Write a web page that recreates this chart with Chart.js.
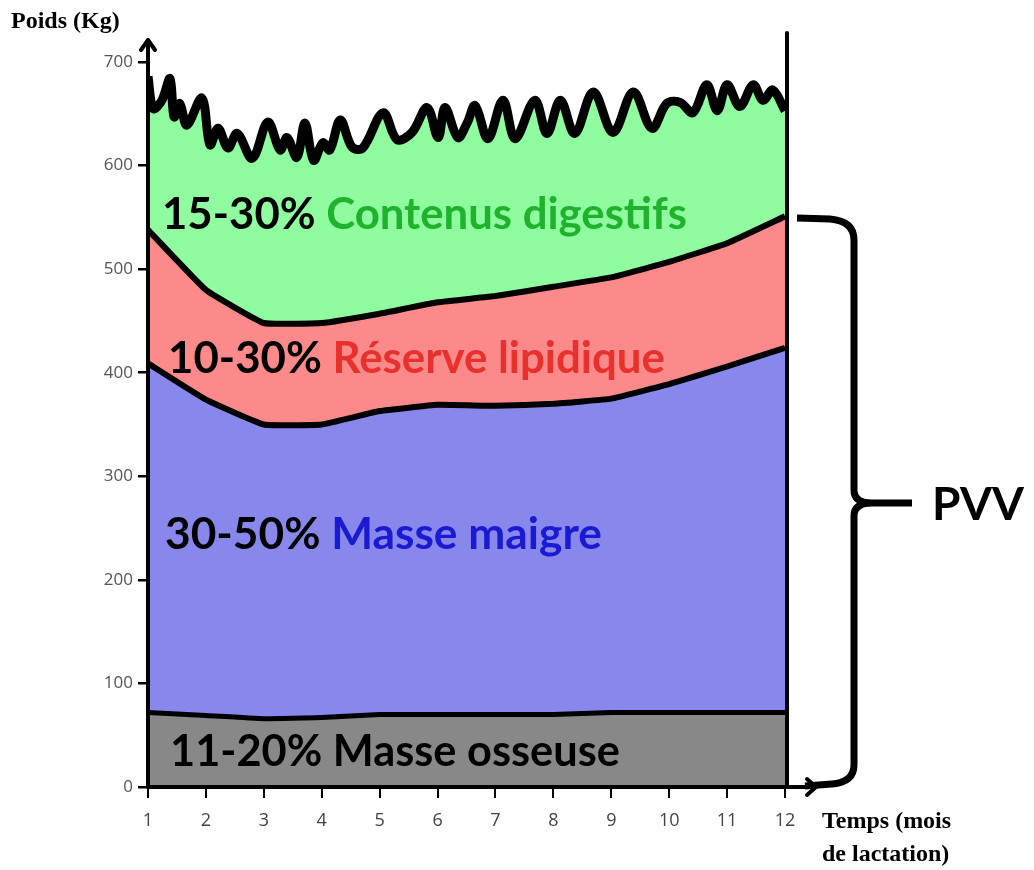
<!DOCTYPE html>
<html>
<head>
<meta charset="utf-8">
<script src="https://cdn.jsdelivr.net/npm/chart.js@4"></script>
<style>
  html, body { margin: 0; padding: 0; background: #fff; }
  #wrap { width: 1034px; height: 870px; position: relative; }
</style>
</head>
<body>
<div id="wrap"><canvas id="chart-1"></canvas></div>
<script>
// mois de lactation
const months = [1, 2, 3, 4, 5, 6, 7, 8, 9, 10, 11, 12];
// limites supérieures cumulées (kg)
const boneTop = [72, 69, 66, 67, 70, 70, 70, 70, 72, 72, 72, 72];
const leanTop = [409, 374, 350, 350, 363, 369, 368, 370, 375, 389, 406, 424];
const lipidTop = [538, 480, 448, 448, 457, 468, 474, 483, 492, 507, 525, 551];
// contenus digestifs : ligne ondulée
const digestX = [1, 1.09, 1.24, 1.38, 1.45, 1.55, 1.67, 1.93, 2.07, 2.21, 2.38, 2.54, 2.8, 3.07, 3.28, 3.4, 3.57, 3.71, 3.86, 4.02, 4.14, 4.32, 4.52, 4.71, 5.06, 5.3, 5.56, 5.82, 6.01, 6.13, 6.35, 6.51, 6.65, 6.87, 7.13, 7.34, 7.68, 7.89, 8.12, 8.37, 8.69, 9.03, 9.38, 9.7, 9.96, 10.19, 10.41, 10.65, 10.83, 11, 11.22, 11.45, 11.62, 11.79, 12];
const digestTop = [686, 655, 663, 684, 647, 660, 639, 665, 620, 636, 617, 631, 607, 642, 615, 627, 608, 641, 605, 622, 615, 644, 618, 617, 651, 625, 632, 656, 627, 656, 627, 641, 658, 626, 663, 626, 663, 631, 663, 631, 671, 632, 671, 636, 660, 661, 651, 678, 653, 678, 657, 678, 663, 673, 653];
const yTicks = [0, 100, 200, 300, 400, 500, 600, 700];

const ranges = ['15-30% ', '10-30% ', '30-50% ', '11-20% '];
const names = ['Contenus digestifs', 'Réserve lipidique', 'Masse maigre', 'Masse osseuse'];

function pts(xs, ys) {
  return xs.map((x, i) => ({ x: x, y: ys[i] }));
}

function fitText(ctx, parts, x, y, targetW, family) {
  ctx.font = 'bold 40px ' + family;
  const w = ctx.measureText(parts.map(p => p.text).join('')).width;
  const size = 40 * targetW / w;
  ctx.font = 'bold ' + size + 'px ' + family;
  let cx = x;
  parts.forEach(p => {
    ctx.fillStyle = p.color;
    ctx.fillText(p.text, cx, y);
    cx += ctx.measureText(p.text).width;
  });
}

const decor = {
  id: 'decor',
  afterDraw(chart) {
    const ctx = chart.ctx;
    const xs = chart.scales.x, ys = chart.scales.y;
    const x0 = xs.getPixelForValue(1), x1 = xs.getPixelForValue(12);
    const y0 = ys.getPixelForValue(0);
    ctx.save();
    ctx.strokeStyle = '#000';
    ctx.fillStyle = '#000';
    ctx.lineCap = 'round';
    ctx.lineJoin = 'round';

    // bord droit
    ctx.lineWidth = 4;
    ctx.beginPath();
    ctx.moveTo(x1 + 2, 33);
    ctx.lineTo(x1 + 2, y0);
    ctx.stroke();

    // axe vertical + flèche
    ctx.lineWidth = 4;
    ctx.beginPath();
    ctx.moveTo(x0, y0);
    ctx.lineTo(x0, 40);
    ctx.moveTo(x0 - 7, 50);
    ctx.lineTo(x0, 40);
    ctx.lineTo(x0 + 7, 50);
    ctx.stroke();

    // axe horizontal + flèche
    ctx.beginPath();
    ctx.moveTo(x0, y0);
    ctx.lineTo(816, y0);
    ctx.moveTo(807, y0 - 8);
    ctx.lineTo(816, y0);
    ctx.lineTo(807, y0 + 8);
    ctx.stroke();

    // accolade
    ctx.lineWidth = 7;
    ctx.lineCap = 'butt';
    ctx.beginPath();
    ctx.moveTo(797, 218);
    ctx.lineTo(830, 219);
    ctx.quadraticCurveTo(854, 221, 854, 240);
    ctx.lineTo(854, 490);
    ctx.quadraticCurveTo(854, 503, 872, 503);
    ctx.lineTo(912, 503);
    ctx.moveTo(872, 503);
    ctx.quadraticCurveTo(854, 503, 854, 516);
    ctx.lineTo(854, 765);
    ctx.quadraticCurveTo(854, 782, 832, 784);
    ctx.lineTo(805, 786);
    ctx.stroke();

    // PVV
    ctx.font = 'bold 46px Lato';
    ctx.textBaseline = 'middle';
    ctx.textAlign = 'left';
    ctx.fillText('PVV', 932, 505);

    // titres d'axes
    ctx.font = 'bold 24px "Liberation Serif"';
    ctx.fillText('Poids (Kg)', 11, 22);
    ctx.fillText('Temps (mois', 822, 822);
    ctx.fillText('de lactation)', 822, 855);

    // étiquettes des couches
    ctx.textBaseline = 'alphabetic';
    const fam = 'Lato';
    fitText(ctx, [{ text: ranges[0], color: '#000' }, { text: names[0], color: '#1fb22c' }], 162, 229, 525, fam);
    fitText(ctx, [{ text: ranges[1], color: '#000' }, { text: names[1], color: '#e8302c' }], 168, 373, 497, fam);
    fitText(ctx, [{ text: ranges[2], color: '#000' }, { text: names[2], color: '#1a1ad2' }], 165, 549, 437, fam);
    fitText(ctx, [{ text: ranges[3], color: '#000' }, { text: names[3], color: '#000' }], 170, 766, 450, fam);
    ctx.restore();
  }
};

const ctx1 = document.getElementById('chart-1').getContext('2d');
const myChart1 = new Chart(ctx1, {
  type: 'line',
  data: {
    datasets: [
      {
        label: names[3],
        data: pts(months, boneTop),
        borderColor: '#000',
        borderWidth: 5,
        backgroundColor: '#888888',
        fill: 'origin',
        tension: 0.1
      },
      {
        label: names[2],
        data: pts(months, leanTop),
        borderColor: '#000',
        borderWidth: 6,
        backgroundColor: '#8888ec',
        fill: 'origin',
        tension: 0.1
      },
      {
        label: names[1],
        data: pts(months, lipidTop),
        borderColor: '#000',
        borderWidth: 6,
        backgroundColor: '#fc8a8a',
        fill: 'origin',
        tension: 0.1
      },
      {
        label: names[0],
        data: pts(digestX, digestTop),
        borderColor: '#000',
        borderWidth: 9,
        backgroundColor: '#8ffca0',
        fill: 'origin',
        tension: 0.35
      }
    ]
  },
  options: {
    responsive: true,
    maintainAspectRatio: false,
    animation: false,
    elements: { point: { radius: 0 } },
    layout: { padding: { top: 62, right: 249, bottom: 0, left: 0 } },
    plugins: { legend: { display: false }, tooltip: { enabled: false } },
    scales: {
      x: {
        type: 'linear',
        min: 1,
        max: 12,
        afterFit(axis) { axis.height = 83; },
        afterBuildTicks(axis) { axis.ticks = months.map(v => ({ value: v })); },
        ticks: { color: '#444', font: { size: 18, family: 'Open Sans' }, padding: 12 },
        grid: { display: true, drawOnChartArea: false, drawTicks: true, tickLength: 11, color: '#000', lineWidth: 2 },
        border: { display: false }
      },
      y: {
        min: 0,
        max: 700,
        afterFit(axis) { axis.width = 148; },
        afterBuildTicks(axis) { axis.ticks = yTicks.map(v => ({ value: v })); },
        ticks: { color: '#555', font: { size: 17, family: 'Open Sans' }, padding: 5 },
        grid: { display: true, drawOnChartArea: false, drawTicks: true, tickLength: 10, color: '#000', lineWidth: 2.5 },
        border: { display: false }
      }
    }
  },
  plugins: [decor]
});
</script>
</body>
</html>
